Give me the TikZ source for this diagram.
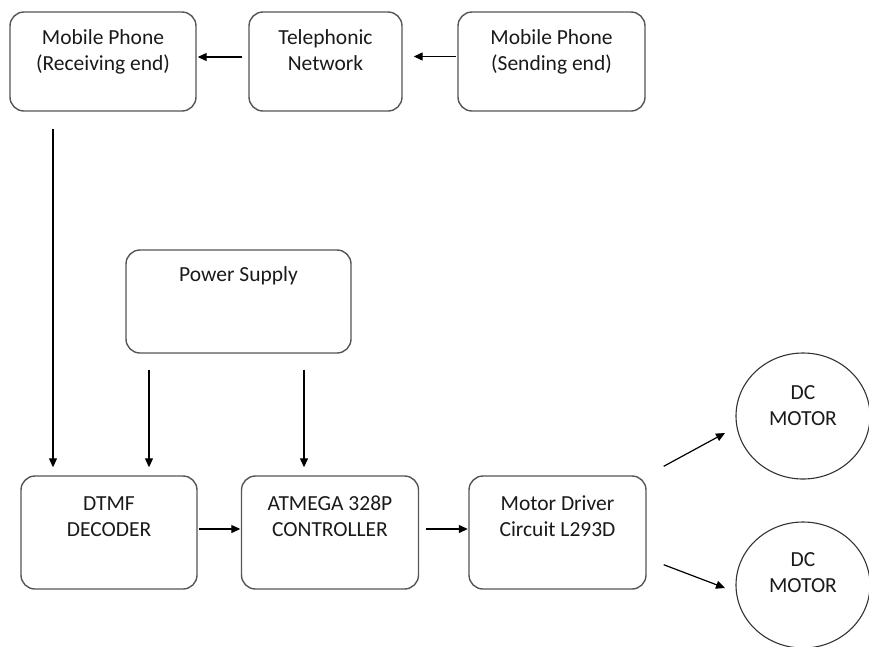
\documentclass[tikz,border=0pt]{standalone}
\usepackage{fontspec}
\setmainfont{Carlito}
\usetikzlibrary{arrows.meta,shapes.geometric}
\definecolor{edge}{HTML}{555555}
\definecolor{ink}{HTML}{1A1A1A}
\tikzset{
  blk/.style={draw=edge, line width=1.4pt, rounded corners=14pt, rectangle, inner sep=0pt},
  motor/.style={draw=black!80, line width=1.1pt, ellipse, inner sep=0pt, minimum width=134pt, minimum height=126pt},
  txt/.style={inner sep=0pt, align=center, text=ink, font=\fontsize{21.5}{26}\selectfont, anchor=base},
  arr/.style={draw=black, line width=1.2pt, -{Triangle[length=9pt,width=8pt]}}
}
\begin{document}
\begin{tikzpicture}[x=1pt,y=-1pt]
\useasboundingbox (0,0) rectangle (869,646);
\clip (0,0) rectangle (869,646);
% top row
\node[blk, minimum width=186pt, minimum height=99pt] (rx) at (103,61.5) {};
\node[blk, minimum width=153pt, minimum height=99pt] (tn) at (325.5,61.5) {};
\node[blk, minimum width=187pt, minimum height=99pt] (tx) at (551.5,61.5) {};
\node[txt] (rxt) at (103,70) {Mobile Phone\\(Receiving end)};
\node[txt] (tnt) at (325.5,70) {Telephonic\\Network};
\node[txt] (txt1) at (551.5,70) {Mobile Phone\\(Sending end)};
% power supply
\node[blk, minimum width=225pt, minimum height=103pt] (ps) at (238.5,301.5) {};
\node[txt] (pst) at (238.5,281) {Power Supply};
% bottom row
\node[blk, minimum width=176pt, minimum height=113pt] (dtmf) at (109,532.5) {};
\node[blk, minimum width=177pt, minimum height=113pt] (atm) at (330,532.5) {};
\node[blk, minimum width=177pt, minimum height=113pt] (md) at (557.5,532.5) {};
\node[txt] (dtmft) at (109,536) {DTMF\\DECODER};
\node[txt] (atmt) at (330,536) {ATMEGA 328P\\CONTROLLER};
\node[txt] (mdt) at (557.5,536) {Motor Driver\\Circuit L293D};
% motors
\node[motor] (m1) at (803,416) {};
\node[motor] (m2) at (803,585) {};
\node[txt] (m1t) at (803,425) {DC\\MOTOR};
\node[txt] (m2t) at (803,592) {DC\\MOTOR};
% connectors
\draw[arr, shorten <=6pt, shorten >=1pt] ([yshift=4.5pt]tn.west) -- ([yshift=4.5pt]rx.east);
\draw[arr, shorten <=1pt, shorten >=11pt] ([yshift=5pt]tx.west) -- ([yshift=5pt]tn.east);
\draw[arr, shorten <=17pt, shorten >=8pt] ([xshift=-50pt]rx.south) -- ([xshift=-56pt]dtmf.north);
\draw[arr, shorten <=16pt, shorten >=8pt] ([xshift=-89.5pt]ps.south) -- ([xshift=40pt]dtmf.north);
\draw[arr, shorten <=16pt, shorten >=8pt] ([xshift=65.5pt]ps.south) -- ([xshift=-26pt]atm.north);
\draw[arr, shorten <=1pt, shorten >=0.5pt] ([yshift=3.5pt]dtmf.east) -- ([yshift=3.5pt]atm.west);
\draw[arr, shorten <=7pt, shorten >=0.5pt] ([yshift=3.5pt]atm.east) -- ([yshift=3.5pt]md.west);
\draw[arr] ([xshift=17pt,yshift=9pt]md.north east) -- ([xshift=-78pt,yshift=-17pt]m1.center);
\draw[arr] ([xshift=17pt,yshift=25pt]md.south east) -- ([xshift=-78pt,yshift=-3pt]m2.center);
\end{tikzpicture}
\end{document}
